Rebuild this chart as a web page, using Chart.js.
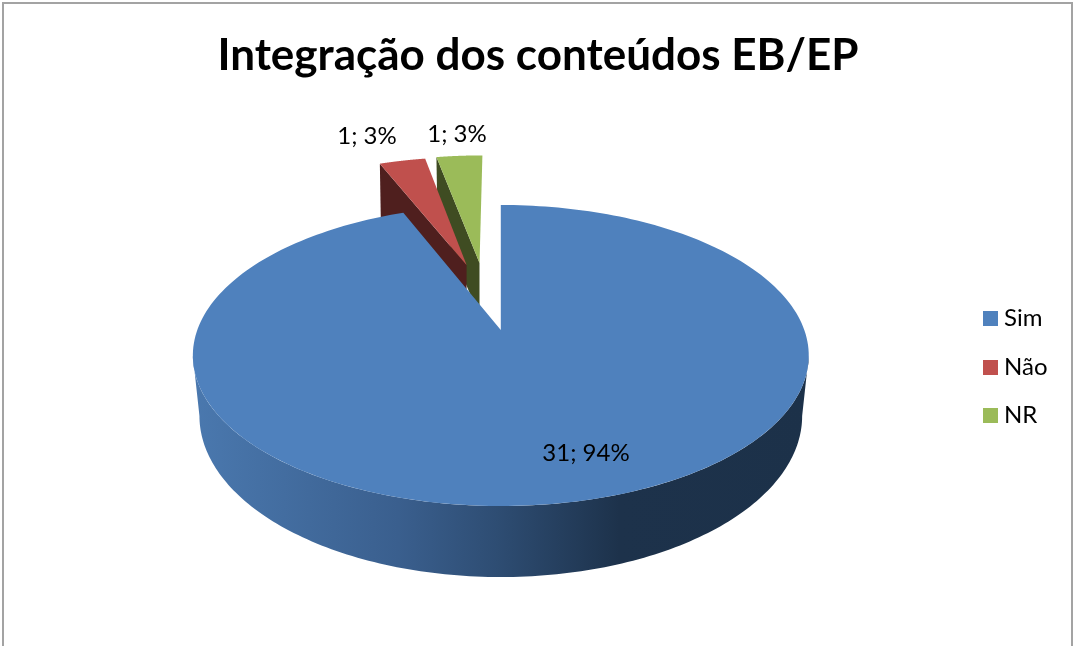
<!DOCTYPE html>
<html>
<head>
<meta charset="utf-8">
<style>html,body{margin:0;padding:0;background:#fff;overflow:hidden}canvas{display:block}</style>
<script src="https://cdn.jsdelivr.net/npm/chart.js@4/dist/chart.umd.min.js"></script>
</head>
<body>
<canvas id="c" width="1075" height="646"></canvas>
<script>
const chartTitle = 'Integração dos conteúdos EB/EP';
const categories = ['Sim', 'Não', 'NR'];
const values = [31, 1, 1];
const colors = ['#4f81bd', '#c0504d', '#9bbb59'];
const wallColors = [null, '#4f1f1e', '#3f4c22'];
const FONT = 'Lato, Carlito, "Open Sans", sans-serif';

// perspective of the pie plane (top face and bottom face)
const TOP = {cx: 500.8, y0: 330, R: 303.5, K: 146.2, q: 0.1694};
const BOT = {cx: 500.8, y0: 388.6, R: 297, K: 156.5, q: 0.1694};
const EXPLODE = [[0, 0], [-0.122, -0.481], [-0.076, -0.497]];
const LABEL_POS = [[586, 453.5], [367, 136.5], [457, 134.5]];

function project(P, u, v) {
  const w = 1 - P.q * v;
  return {x: P.cx + P.R * u / w, y: P.y0 + P.K * v / w};
}
// chart.js angle: 0 at +x, clockwise; -PI/2 at the top
function disc(P, ang, off) {
  return project(P, Math.cos(ang) + off[0], Math.sin(ang) + off[1]);
}
function swatch(color) {
  const s = document.createElement('canvas');
  s.width = 15; s.height = 15;
  const g = s.getContext('2d');
  g.fillStyle = color;
  g.fillRect(0, 0, 15, 15);
  return s;
}

const pie3d = {
  id: 'pie3d',
  afterLayout(chart) {
    const l = chart.legend;
    const p = l.options.labels.padding;
    l.left = 989 - p;
    l.right = chart.width;
    l.top = 306.5 - p;
    l.bottom = chart.height;
  },
  beforeDraw(chart) {
    const c = chart.ctx;
    c.save();
    c.fillStyle = '#fff';
    c.fillRect(0, 0, chart.width, chart.height);
    c.strokeStyle = '#a3a3a3';
    c.lineWidth = 2;
    c.beginPath();
    c.moveTo(3, chart.height + 2);
    c.lineTo(3, 3);
    c.lineTo(1072, 3);
    c.lineTo(1072, chart.height + 2);
    c.stroke();
    c.restore();
  },
  beforeDatasetsDraw(chart) {
    const c = chart.ctx;
    const arcs = chart.getDatasetMeta(0).data;
    c.save();
    // far slices first, so that the nearer ones overlap them
    [2, 1, 0].forEach(i => {
      const a = arcs[i], off = EXPLODE[i];
      const s = a.startAngle, e = a.endAngle;
      if (wallColors[i]) {
        // visible radial wall of the exploded slices
        const t0 = project(TOP, off[0], off[1]);
        const t1 = disc(TOP, s, off);
        const b0 = project(BOT, off[0], off[1]);
        const b1 = disc(BOT, s, off);
        c.fillStyle = wallColors[i];
        c.beginPath();
        c.moveTo(t0.x, t0.y);
        c.lineTo(t1.x, t1.y);
        c.lineTo(t1.x + 1, b1.y + 12);
        c.lineTo(t0.x, b0.y);
        c.closePath();
        c.fill();
      } else {
        // outer rim of the large slice
        const from = 9.8 * Math.PI / 180, to = Math.PI - from;
        const g = c.createLinearGradient(195, 0, 810, 0);
        g.addColorStop(0, '#4a78ae');
        g.addColorStop(0.33, '#3a5f8e');
        g.addColorStop(0.49, '#2e4d73');
        g.addColorStop(0.69, '#1d324b');
        g.addColorStop(1, '#1c3149');
        c.fillStyle = g;
        c.beginPath();
        for (let k = 0; k <= 160; k++) {
          const p = disc(TOP, from + (to - from) * k / 160, off);
          k ? c.lineTo(p.x, p.y) : c.moveTo(p.x, p.y);
        }
        for (let k = 160; k >= 0; k--) {
          const p = disc(BOT, from + (to - from) * k / 160, off);
          c.lineTo(p.x, p.y);
        }
        c.closePath();
        c.fill();
      }
      // top face
      const ap = project(TOP, off[0], off[1]);
      c.fillStyle = colors[i];
      c.beginPath();
      c.moveTo(ap.x, ap.y);
      for (let k = 0; k <= 240; k++) {
        const p = disc(TOP, s + (e - s) * k / 240, off);
        c.lineTo(p.x, p.y);
      }
      c.closePath();
      c.fill();
    });
    c.restore();
    return false;
  },
  afterDraw(chart) {
    const c = chart.ctx;
    const total = values.reduce((x, y) => x + y, 0);
    c.save();
    c.fillStyle = '#000';
    c.font = '24px ' + FONT;
    c.textAlign = 'center';
    c.textBaseline = 'middle';
    values.forEach((v, i) => {
      c.fillText(v + '; ' + Math.round(v / total * 100) + '%', LABEL_POS[i][0], LABEL_POS[i][1]);
    });
    c.restore();
  }
};

new Chart(document.getElementById('c'), {
  type: 'pie',
  data: {
    labels: categories,
    datasets: [{data: values, backgroundColor: colors, borderWidth: 0}]
  },
  options: {
    responsive: false,
    animation: false,
    layout: {padding: {top: 29, right: 0, bottom: 0, left: 1}},
    plugins: {
      tooltip: {enabled: false},
      title: {
        display: true,
        text: chartTitle,
        color: '#000',
        font: {family: FONT, size: 44, weight: 'bold'},
        padding: {top: 0, bottom: 10}
      },
      legend: {
        position: 'right',
        align: 'start',
        labels: {
          boxWidth: 3,
          boxHeight: 15,
          padding: 24.5,
          usePointStyle: true,
          color: '#000',
          font: {family: FONT, size: 24},
          generateLabels(chart) {
            return Chart.overrides.pie.plugins.legend.labels.generateLabels(chart)
              .map((item, i) => Object.assign(item, {pointStyle: swatch(colors[i])}));
          }
        }
      }
    }
  },
  plugins: [pie3d]
});
</script>
</body>
</html>
